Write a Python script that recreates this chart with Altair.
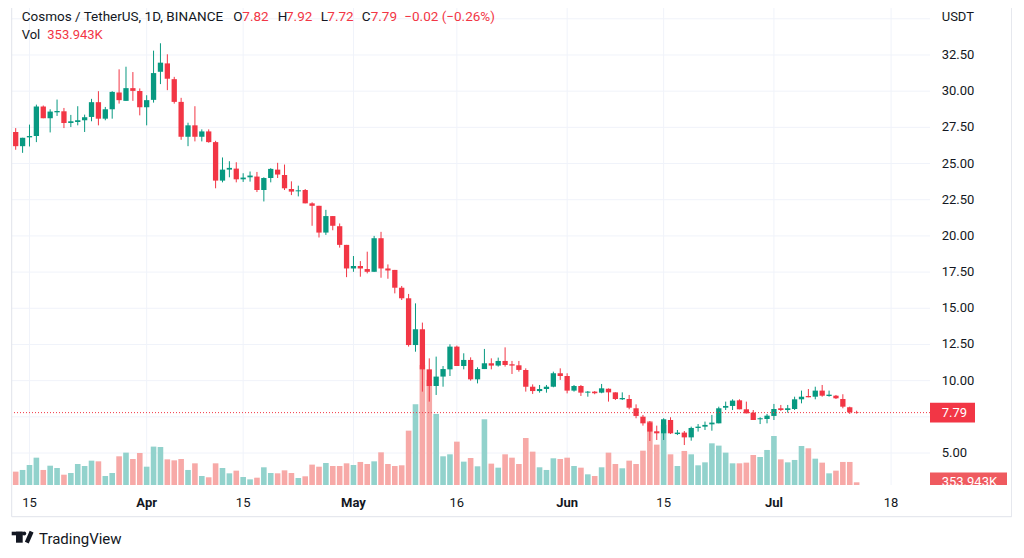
import altair as alt
import pandas as pd

# ATOM/USDT daily candles, 13 Mar - 13 Jul 2022
first_day = "2022-03-13"

opens = [27.18, 26.20, 26.81, 26.90, 28.94, 28.13, 28.54, 28.61, 27.80, 27.87,
         27.99, 28.22, 29.24, 28.10, 28.75, 29.91, 29.33, 30.21, 30.02, 28.89,
         29.40, 31.34, 31.92, 30.83, 29.26, 26.85, 27.64, 26.85, 27.22, 26.48,
         23.82, 24.58, 24.65, 23.91, 24.05, 24.10, 23.17, 24.00, 24.58, 24.21,
         23.24, 23.08, 23.17, 22.25, 22.08, 20.23, 21.37, 20.67, 19.38, 17.75,
         17.92, 17.71, 17.52, 19.84, 17.75, 17.65, 16.42, 15.69, 12.46, 13.55,
         10.78, 9.63, 10.28, 10.78, 12.35, 11.01, 11.43, 10.09, 10.80, 11.20,
         11.04, 11.36, 11.13, 11.06, 10.74, 9.58, 9.28, 9.42, 9.58, 10.51,
         10.32, 9.31, 9.63, 9.17, 9.24, 9.17, 9.44, 9.19, 8.71, 8.73,
         8.09, 7.51, 7.12, 6.50, 6.36, 7.28, 6.31, 6.41, 6.08, 6.73,
         6.82, 6.98, 7.05, 8.13, 8.25, 8.64, 8.02, 7.79, 7.33, 7.35,
         7.56, 8.09, 7.97, 8.04, 8.71, 8.94, 8.89, 9.31, 8.94, 8.96,
         8.73, 8.16, 7.82]

highs = [27.45, 26.78, 27.69, 29.07, 29.01, 28.75, 29.42, 28.84, 28.36, 28.96,
         28.38, 29.47, 30.00, 28.91, 30.00, 31.51, 31.69, 31.32, 30.19, 29.72,
         32.80, 33.31, 32.55, 30.99, 29.54, 27.82, 28.96, 27.36, 27.36, 26.57,
         25.42, 25.16, 25.09, 24.33, 24.45, 24.42, 24.05, 24.68, 25.05, 24.93,
         23.77, 23.47, 23.24, 22.32, 22.08, 21.80, 21.37, 20.86, 19.38, 18.61,
         18.26, 18.91, 20.00, 20.28, 18.03, 17.65, 16.54, 15.99, 15.34, 14.01,
         11.54, 11.66, 11.01, 12.51, 12.42, 11.89, 11.61, 10.92, 12.19, 11.54,
         11.59, 12.30, 11.36, 11.36, 10.85, 9.74, 9.70, 9.70, 10.62, 10.85,
         10.51, 9.70, 9.70, 9.28, 9.28, 9.77, 9.46, 9.19, 9.19, 9.01,
         8.36, 7.63, 7.21, 6.89, 7.40, 7.47, 6.59, 6.52, 6.82, 7.00,
         7.17, 7.63, 8.20, 8.55, 8.71, 8.71, 8.55, 7.97, 7.47, 7.70,
         8.39, 8.32, 8.32, 8.89, 9.31, 9.42, 9.58, 9.70, 9.31, 9.01,
         9.06, 8.20, 7.92]

lows = [25.95, 25.74, 26.18, 26.48, 28.13, 27.15, 28.29, 27.45, 27.52, 27.64,
        27.18, 27.92, 27.64, 27.99, 28.10, 29.14, 29.33, 29.33, 28.33, 27.64,
        29.21, 30.49, 30.07, 29.14, 26.64, 26.20, 26.53, 26.53, 26.44, 23.29,
        23.70, 24.05, 23.70, 23.73, 23.75, 23.03, 22.38, 23.70, 24.00, 23.17,
        22.82, 22.73, 22.25, 20.70, 19.89, 20.07, 20.39, 19.19, 17.15, 17.52,
        17.18, 17.41, 17.52, 17.11, 17.04, 16.03, 15.57, 12.35, 12.00, 9.24,
        8.55, 9.01, 9.58, 10.32, 11.01, 10.78, 10.00, 9.81, 10.80, 10.78,
        10.97, 10.97, 10.46, 10.62, 9.24, 9.08, 9.17, 9.17, 9.54, 10.05,
        9.12, 9.24, 8.94, 8.89, 9.06, 9.13, 8.55, 8.66, 8.66, 8.02,
        7.40, 6.89, 5.83, 5.90, 5.90, 6.31, 6.24, 5.55, 5.85, 6.48,
        6.59, 6.54, 7.05, 7.97, 7.97, 8.02, 7.74, 7.28, 7.00, 7.05,
        7.28, 7.90, 7.79, 7.97, 8.43, 8.85, 8.71, 8.89, 8.89, 8.73,
        8.09, 7.70, 7.72]

closes = [26.20, 26.78, 26.90, 28.94, 28.13, 28.59, 28.63, 27.80, 27.92, 27.99,
          28.20, 29.24, 28.10, 28.75, 29.95, 29.38, 30.21, 30.02, 28.89, 29.38,
          31.25, 31.97, 30.86, 29.26, 26.85, 27.64, 26.85, 27.22, 26.48, 23.82,
          24.58, 24.70, 23.91, 24.03, 24.17, 23.17, 24.00, 24.63, 24.24, 23.29,
          23.06, 23.15, 22.25, 22.08, 20.23, 21.37, 20.70, 19.38, 17.75, 17.92,
          17.75, 17.52, 19.84, 17.75, 17.61, 16.42, 15.69, 12.46, 13.55, 10.78,
          9.63, 10.28, 10.80, 12.35, 11.01, 11.43, 10.09, 10.80, 11.20, 11.04,
          11.36, 11.08, 11.04, 10.74, 9.58, 9.28, 9.42, 9.58, 10.51, 10.32,
          9.31, 9.63, 9.17, 9.24, 9.13, 9.47, 9.19, 8.73, 8.80, 8.13,
          7.56, 7.05, 6.48, 6.36, 7.33, 6.36, 6.41, 6.08, 6.73, 6.82,
          6.94, 7.10, 8.09, 8.25, 8.62, 8.02, 7.74, 7.28, 7.40, 7.58,
          8.04, 7.97, 8.09, 8.71, 8.89, 8.85, 9.31, 8.96, 9.03, 8.78,
          8.20, 7.81, 7.79]

# volume in millions of ATOM
volumes = [1.75, 1.97, 2.62, 3.58, 1.97, 2.53, 2.23, 1.35, 1.57, 2.75,
           2.49, 3.19, 3.10, 1.18, 1.57, 3.76, 4.24, 3.41, 4.20, 2.40,
           5.03, 4.98, 3.36, 3.23, 3.41, 1.97, 2.84, 1.18, 1.01, 2.84,
           2.23, 1.53, 1.88, 1.05, 0.74, 0.96, 2.32, 1.57, 1.53, 1.92,
           1.57, 0.92, 1.14, 2.67, 2.40, 2.88, 2.49, 2.49, 2.84, 2.62,
           3.02, 2.75, 3.10, 4.28, 2.75, 2.49, 2.58, 7.12, 10.58, 15.73,
           13.77, 9.31, 3.76, 4.02, 5.68, 3.06, 3.54, 2.45, 8.61, 2.80,
           2.27, 4.02, 3.58, 2.75, 6.16, 4.37, 2.32, 1.97, 3.50, 3.41,
           3.58, 2.49, 2.27, 1.40, 1.18, 2.32, 4.24, 2.75, 2.19, 3.19,
           2.75, 4.50, 8.39, 5.29, 7.87, 4.02, 2.49, 4.46, 4.02, 2.58,
           2.97, 5.46, 5.16, 4.24, 2.84, 2.84, 2.93, 3.93, 3.67, 4.59,
           6.42, 3.36, 2.97, 3.28, 5.11, 4.81, 3.45, 2.93, 1.53, 1.88,
           3.02, 3.02, 0.353943]

day_ticks = ["2022-03-15", "2022-04-15", "2022-05-16", "2022-06-15", "2022-07-18"]
day_labels = ["15", "15", "16", "15", "18"]
month_ticks = ["2022-04-01", "2022-05-01", "2022-06-01", "2022-07-01"]
month_labels = ["Apr", "May", "Jun", "Jul"]
price_ticks = [5.0, 7.5, 10.0, 12.5, 15.0, 17.5, 20.0, 22.5, 25.0, 27.5, 30.0, 32.5, 35.0]

GREEN = "#089981"
RED = "#F23645"
VOL_GREEN = "#92d2cc"
VOL_RED = "#f7a9a7"
VOL_LABEL = "#ef5a5f"
INK = "#131722"
GRID = "#f0f3fa"
FRAME = "#e0e3eb"
FONT = "Roboto"

days = pd.date_range(first_day, periods=len(closes), freq="D")
df = pd.DataFrame({
    "date": days.strftime("%Y-%m-%dT00:00:00Z"),
    "open": opens, "high": highs, "low": lows, "close": closes, "volume": volumes,
})
up = df["close"] >= df["open"]
df["candle"] = up.map({True: GREEN, False: RED})
df["vcolor"] = up.map({True: VOL_GREEN, False: VOL_RED})

ticks_day = pd.DataFrame({"date": [d + "T00:00:00Z" for d in day_ticks], "label": day_labels})
ticks_month = pd.DataFrame({"date": [d + "T00:00:00Z" for d in month_ticks], "label": month_labels})
ticks_all = pd.concat([ticks_day, ticks_month])
levels = pd.DataFrame({"p": price_ticks})
last = pd.DataFrame({"price": [closes[-1]], "volume": [volumes[-1]]})
one = pd.DataFrame({"k": [0]})

xscale = alt.Scale(type="utc", padding=0, domain=[
    alt.DateTime(year=2022, month=3, date=12, hours=11, minutes=7, utc=True),
    alt.DateTime(year=2022, month=7, date=23, hours=15, minutes=26, utc=True),
])
pscale = alt.Scale(domain=[2.789, 35.747], nice=False, zero=False)
vscale = alt.Scale(domain=[0, 62.49], nice=False, zero=True)
X = alt.X("date:T", scale=xscale, axis=None)


def note(text, x, y, color=INK, size=13, weight="normal", align="left"):
    return alt.Chart(one).mark_text(
        align=align, baseline="alphabetic", font=FONT, fontSize=size, fontWeight=weight, color=color
    ).encode(x=alt.value(x), y=alt.value(y), text=alt.value(text))


vgrid = alt.Chart(ticks_all).mark_rule(color=GRID, strokeWidth=1).encode(x=X)
hgrid = alt.Chart(levels).mark_rule(color=GRID, strokeWidth=1).encode(
    y=alt.Y("p:Q", scale=pscale, axis=None)
)
# labels under the last-price tag and the USDT caption are hidden, as on the scale
price_labels = alt.Chart(levels).transform_filter(
    f"datum.p < 34 && abs(datum.p - {closes[-1]}) > 1.3"
).mark_text(
    align="left", baseline="middle", font=FONT, fontSize=13, color=INK
).encode(
    x=alt.value(929.7),
    y=alt.Y("p:Q", scale=pscale, axis=None),
    text=alt.Text("p:Q", format=".2f"),
)

vol_bars = alt.Chart(df).mark_bar(size=5.6).encode(
    x=X,
    y=alt.Y("volume:Q", scale=vscale, axis=None),
    color=alt.Color("vcolor:N", scale=None),
)
vol_box = alt.Chart(last).transform_calculate(
    top="datum.volume + 1.28", base="0"
).mark_rect(color=VOL_LABEL).encode(
    x=alt.value(918), x2=alt.value(995),
    y=alt.Y("top:Q", scale=vscale, axis=None), y2="base:Q",
)
vol_text = alt.Chart(last).mark_text(
    align="left", baseline="middle", font=FONT, fontSize=13, color="white"
).encode(
    x=alt.value(929.7),
    y=alt.Y("volume:Q", scale=vscale, axis=None),
    text=alt.value(f"{volumes[-1] * 1000:.3f}K"),
)
volume_layer = alt.layer(vol_bars, vol_box, vol_text)

wicks = alt.Chart(df).mark_rule(strokeWidth=1).encode(
    x=X,
    y=alt.Y("low:Q", scale=pscale, axis=None),
    y2="high:Q",
    color=alt.Color("candle:N", scale=None),
)
bodies = alt.Chart(df).mark_bar(size=5.3).encode(
    x=X,
    y=alt.Y("open:Q", scale=pscale, axis=None),
    y2="close:Q",
    color=alt.Color("candle:N", scale=None),
)
last_line = alt.Chart(last).mark_rule(color=RED, strokeDash=[1, 2], strokeWidth=1).encode(
    y=alt.Y("price:Q", scale=pscale, axis=None)
)
price_box = alt.Chart(last).transform_calculate(
    top="datum.price + 0.68", bot="datum.price - 0.68"
).mark_rect(color=RED).encode(
    x=alt.value(918), x2=alt.value(963),
    y=alt.Y("top:Q", scale=pscale, axis=None), y2="bot:Q",
)
price_text = alt.Chart(last).mark_text(
    align="left", baseline="middle", font=FONT, fontSize=13, color="white"
).encode(
    x=alt.value(929.7),
    y=alt.Y("price:Q", scale=pscale, axis=None),
    text=alt.Text("price:Q", format=".2f"),
)
price_layer = alt.layer(wicks, bodies, last_line, price_box, price_text)

# the volume tag is cut off at the bottom of the pane
cover = alt.Chart(one).mark_rect(color="white").encode(
    x=alt.value(917), x2=alt.value(1000), y=alt.value(477), y2=alt.value(496)
)

day_text = alt.Chart(ticks_day).mark_text(
    align="center", baseline="alphabetic", font=FONT, fontSize=13, color=INK
).encode(x=X, y=alt.value(499.3), text="label:N")
month_text = alt.Chart(ticks_month).mark_text(
    align="center", baseline="alphabetic", font=FONT, fontSize=13, fontWeight="bold", color=INK
).encode(x=X, y=alt.value(499.3), text="label:N")

chg = closes[-1] - closes[-2]
pct = chg / closes[-2] * 100
chg_text = f"{chg:+.2f} ({pct:+.2f}%)".replace("-", "\u2212")

top_y = 12.8
header = [
    note("Cosmos / TetherUS, 1D, BINANCE", 9.7, top_y, size=13.5),
    note("O", 221.3, top_y, size=13.5), note(f"{opens[-1]:.2f}", 230.3, top_y, RED, 13.5),
    note("H", 265.7, top_y, size=13.5), note(f"{highs[-1]:.2f}", 274, top_y, RED, 13.5),
    note("L", 308.7, top_y, size=13.5), note(f"{lows[-1]:.2f}", 315.3, top_y, RED, 13.5),
    note("C", 349.7, top_y, size=13.5), note(f"{closes[-1]:.2f}", 358.7, top_y, RED, 13.5),
    note(chg_text, 392.3, top_y, RED, 13.5),
    note("Vol", 9.7, 30.5), note(f"{volumes[-1] * 1000:.3f}K", 35.3, 30.5, RED),
    note("USDT", 929.7, 12.5),
    note("TradingView", 27, 536, size=15),
]

frame = [
    alt.Chart(one).mark_rule(color=FRAME).encode(x=alt.value(-0.3), y=alt.value(0), y2=alt.value(508.7)),
    alt.Chart(one).mark_rule(color=FRAME).encode(x=alt.value(999.7), y=alt.value(0), y2=alt.value(508.7)),
    alt.Chart(one).mark_rule(color=FRAME).encode(x=alt.value(-0.3), x2=alt.value(999.7), y=alt.value(508.7)),
]

logo = [
    alt.Chart(one).mark_rect(color=INK).encode(
        x=alt.value(-0.3), x2=alt.value(10.7), y=alt.value(523.7), y2=alt.value(527.3)),
    alt.Chart(one).mark_rect(color=INK).encode(
        x=alt.value(4), x2=alt.value(10.7), y=alt.value(523.7), y2=alt.value(534.7)),
    alt.Chart(one).mark_circle(color=INK, opacity=1, size=16).encode(
        x=alt.value(12.2), y=alt.value(525.6)),
    alt.Chart(one).mark_rule(color=INK, strokeWidth=4.2).encode(
        x=alt.value(14.8), y=alt.value(534.7), x2=alt.value(19.6), y2=alt.value(523.7)),
]

chart = alt.layer(
    vgrid, hgrid, volume_layer, price_labels, price_layer, cover,
    day_text, month_text, *header, *frame, *logo
).resolve_scale(
    y="independent"
).properties(
    width=918,
    height=477,
    autosize=alt.AutoSizeParams(type="none"),
    padding={"left": 4, "top": 0, "right": 82, "bottom": 65},
).configure_view(stroke=None)

chart.save("out.html", embed_options={"renderer": "svg", "actions": False})
